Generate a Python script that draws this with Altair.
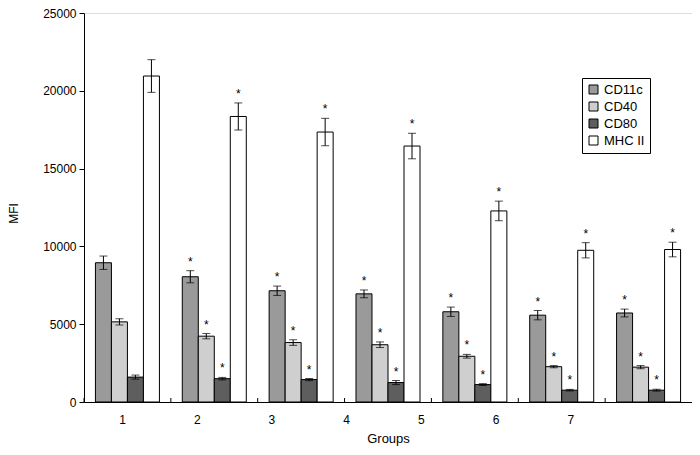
import altair as alt
import pandas as pd

groups = ["1", "2", "3", "4", "5", "6", "7"]
group_nums = [1, 2, 3, 4, 5, 6, 7]
series = ["CD11c", "CD40", "CD80", "MHC II"]

cd11c = [8950, 8050, 7150, 6950, 5800, 5580, 5720]
cd11c_err = [430, 390, 300, 250, 300, 300, 250]
cd40 = [5150, 4230, 3820, 3680, 2940, 2270, 2240]
cd40_err = [200, 170, 180, 180, 120, 70, 100]
cd80 = [1600, 1500, 1440, 1250, 1120, 760, 760]
cd80_err = [130, 80, 70, 130, 60, 50, 60]
mhc2 = [20950, 18350, 17350, 16450, 12280, 9750, 9800]
mhc2_err = [1050, 870, 880, 820, 630, 490, 470]
significant = [False, True, True, True, True, True, True]

y_ticks = [0, 5000, 10000, 15000, 20000, 25000]
fills = ["#9a9a9a", "#cfcfcf", "#5e5e5e", "#ffffff"]

rows = []
for s, vals, errs in zip(series, [cd11c, cd40, cd80, mhc2],
                         [cd11c_err, cd40_err, cd80_err, mhc2_err]):
    for g, v, e, sig in zip(groups, vals, errs, significant):
        rows.append(dict(group=g, series=s, value=v, lo=v - e, hi=v + e,
                         star="*" if sig else ""))
df = pd.DataFrame(rows)
bounds = pd.DataFrame({"group": groups})
labels_df = pd.DataFrame({"num": group_nums})

W, H = 608, 389
FONT = "Liberation Sans"

x_band = alt.X("group:N", sort=groups,
               scale=alt.Scale(paddingInner=0, paddingOuter=0),
               axis=alt.Axis(labels=False, ticks=False, title=None, orient="bottom",
                             domainColor="black", domainWidth=1))
x_off = alt.XOffset("series:N", sort=series,
                    scale=alt.Scale(domain=series, paddingInner=0, paddingOuter=0.714))


def yenc(field):
    return alt.Y(f"{field}:Q",
                 scale=alt.Scale(domain=[0, 25000], nice=False),
                 axis=alt.Axis(values=y_ticks, grid=False, title="MFI", format="d",
                               tickSize=5, tickColor="black", domainColor="black",
                               labelPadding=3, labelFontSize=12, labelColor="black",
                               titleFontSize=12, titleFontWeight="normal",
                               titleColor="black", titleAngle=270,
                               titleAlign="center", titleBaseline="middle",
                               titleX=-71, titleY=200))


bars = alt.Chart(df).mark_bar(stroke="black", strokeWidth=1).encode(
    x=x_band, xOffset=x_off, y=yenc("value"),
    fill=alt.Fill("series:N", sort=series,
                  scale=alt.Scale(domain=series, range=fills),
                  legend=alt.Legend(title=None, orient="none", legendX=498, legendY=65,
                                    strokeColor="black", fillColor="white",
                                    padding=5, symbolType="square", symbolSize=81,
                                    symbolStrokeColor="black", symbolStrokeWidth=1,
                                    labelFontSize=13, labelColor="black",
                                    rowPadding=3, labelOffset=4))
)
err = alt.Chart(df).mark_rule(color="black", strokeWidth=1).encode(
    x=x_band, xOffset=x_off, y=yenc("lo"), y2="hi:Q")
cap_hi = alt.Chart(df).mark_tick(color="black", thickness=1, size=8).encode(
    x=x_band, xOffset=x_off, y=yenc("hi"))
cap_lo = alt.Chart(df).mark_tick(color="black", thickness=1, size=8).encode(
    x=x_band, xOffset=x_off, y=yenc("lo"))
stars = alt.Chart(df).mark_text(fontSize=12, color="black", baseline="alphabetic",
                                dy=-5, font=FONT).encode(
    x=x_band, xOffset=x_off, y=yenc("hi"), text="star:N")
bticks = alt.Chart(bounds).mark_rule(color="black", strokeWidth=1).encode(
    x=alt.X("group:N", sort=groups, bandPosition=0,
            scale=alt.Scale(paddingInner=0, paddingOuter=0),
            axis=alt.Axis(labels=False, ticks=False, title=None, orient="bottom",
                          domainColor="black")),
    y=alt.value(H - 4), y2=alt.value(H))

inner = alt.layer(bars, err, cap_hi, cap_lo, stars, bticks)

label_layer = alt.Chart(labels_df).mark_point(opacity=0).encode(
    x=alt.X("num:Q", scale=alt.Scale(domain=[0.491, 8.63], nice=False, zero=False),
            axis=alt.Axis(values=group_nums, format="d", orient="bottom", ticks=False,
                          tickSize=0, domain=False, grid=False, labelPadding=12,
                          labelFontSize=12, labelColor="black",
                          title="Groups", titleFontSize=13, titleFontWeight="normal",
                          titleColor="black", titleBaseline="alphabetic", titleY=40))
)

chart = alt.layer(inner, label_layer).resolve_scale(x="independent").properties(
    width=W, height=H,
    autosize=alt.AutoSizeParams(type="none"),
    padding={"left": 76, "top": 5, "right": 0, "bottom": 44},
).configure_view(stroke=None).configure(font=FONT)

chart.save("out.html", embed_options={"renderer": "svg", "actions": False})
